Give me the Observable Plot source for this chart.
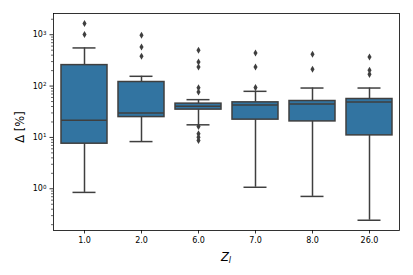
<!DOCTYPE html>
<html>
<head>
<meta charset="utf-8">
<script src="https://cdn.jsdelivr.net/npm/d3@7"></script>
<script src="https://cdn.jsdelivr.net/npm/@observablehq/plot@0.6"></script>
<style>
  html, body { margin: 0; padding: 0; background: #fff; }
  #chart { width: 413px; height: 275px; }
</style>
</head>
<body>
<div id="chart"></div>
<script>
const categories = ["1.0", "2.0", "6.0", "7.0", "8.0", "26.0"];
const whiskerLow = [0.85, 8.3, 17.6, 1.07, 0.71, 0.244];
const q1 = [7.55, 24.9, 34.8, 22.2, 20.5, 10.96];
const median = [21.5, 29.8, 40.3, 42.7, 44.7, 48.9];
const q3 = [256, 120, 45.5, 48.2, 51.2, 56];
const whiskerHigh = [553, 155, 54.4, 79, 91.6, 91.6];
const outliers = [
  [1008, 1652],
  [381, 578, 980],
  [8.75, 10.1, 11.8, 16.3, 76.6, 93, 235, 295, 498],
  [93.4, 235, 441],
  [212, 416],
  [169, 203, 369]
];
const yMajorTicks = [1, 10, 100, 1000];
const yMajorExponents = ["0", "1", "2", "3"];
const yMinorTicks = [];
[0.1, 1, 10, 100, 1000].forEach(d => { for (let k = 2; k <= 9; k++) yMinorTicks.push(d * k); });

const stats = categories.map((c, i) => ({
  cat: c, lo: whiskerLow[i], q1: q1[i], med: median[i], q3: q3[i], hi: whiskerHigh[i]
}));
const outlierRows = categories.flatMap((c, i) => outliers[i].map(v => ({cat: c, v})));

const lineColor = "#3f3f3f";
const boxColor = "#3274a1";

const chart = Plot.plot({
  width: 413,
  height: 275,
  marginLeft: 53,
  marginRight: 14,
  marginTop: 13,
  marginBottom: 45,
  style: {fontFamily: "DejaVu Sans", fontSize: "8px", background: "white", color: "#000"},
  x: {type: "band", domain: categories, paddingInner: 0.2, paddingOuter: 0.1, label: null},
  y: {type: "log", domain: [0.154, 2590], label: null},
  marks: [
    Plot.ruleX(stats, {x: "cat", y1: "lo", y2: "q1", stroke: lineColor, strokeWidth: 1.5}),
    Plot.ruleX(stats, {x: "cat", y1: "q3", y2: "hi", stroke: lineColor, strokeWidth: 1.5}),
    Plot.tickY(stats, {x: "cat", y: "lo", stroke: lineColor, strokeWidth: 1.5, inset: 11.5}),
    Plot.tickY(stats, {x: "cat", y: "hi", stroke: lineColor, strokeWidth: 1.5, inset: 11.5}),
    Plot.barY(stats, {x: "cat", y1: "q1", y2: "q3", fill: boxColor, stroke: lineColor, strokeWidth: 1.5}),
    Plot.tickY(stats, {x: "cat", y: "med", stroke: lineColor, strokeWidth: 1.5}),
    Plot.dot(outlierRows, {x: "cat", y: "v", symbol: "diamond", r: 2.15, fill: lineColor, stroke: "none"}),
    Plot.axisY(yMinorTicks.filter(t => t > 0.154 && t < 2590), {tickSize: 2, tickFormat: () => "", stroke: "#000", strokeWidth: 0.6, label: null}),
    Plot.axisY(yMajorTicks, {tickSize: 3.5, tickPadding: 3.5, tickFormat: d => "10^" + yMajorExponents[yMajorTicks.indexOf(d)], stroke: "#000", strokeWidth: 0.8, label: null, fontSize: 8}),
    Plot.axisX(categories, {tickSize: 3.5, tickPadding: 3, stroke: "#000", strokeWidth: 0.8, label: null, fontSize: 8}),
    Plot.frame({stroke: "#000", strokeWidth: 0.8})
  ]
});
document.getElementById("chart").appendChild(chart);

const svg = d3.select(chart);
// render "10^n" tick labels with a real superscript
svg.selectAll("text").each(function() {
  const t = d3.select(this);
  const s = t.text();
  const m = /^10\^(\d)$/.exec(s);
  if (m) {
    t.text("10");
    t.append("tspan").attr("dy", "-0.45em").style("font-size", "5.6px").text(m[1]);
  }
});
svg.append("text")
  .attr("transform", "translate(20,127) rotate(-90)")
  .attr("text-anchor", "middle")
  .attr("dominant-baseline", "middle")
  .style("font-family", "DejaVu Sans")
  .style("font-size", "11.5px")
  .attr("fill", "#000")
  .text("Δ [%]");
const xl = svg.append("text")
  .attr("x", 226)
  .attr("y", 261)
  .attr("text-anchor", "middle")
  .style("font-family", "DejaVu Sans")
  .style("font-size", "11.5px")
  .style("font-style", "italic")
  .attr("fill", "#000");
xl.append("tspan").text("Z");
xl.append("tspan").attr("dy", 2).style("font-size", "8px").text("l");
</script>
</body>
</html>
